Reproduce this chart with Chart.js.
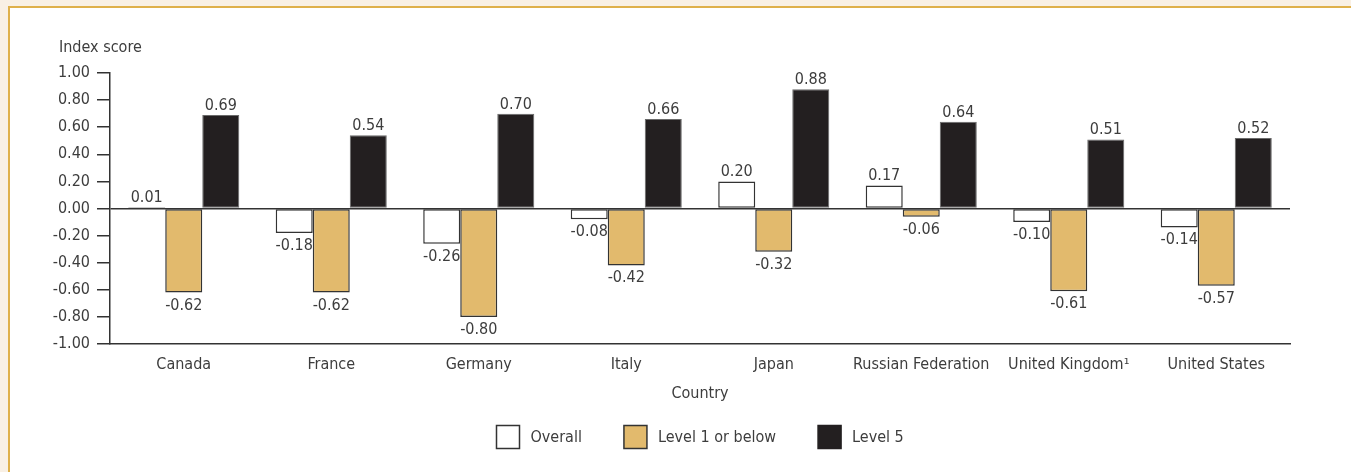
<!DOCTYPE html>
<html>
<head>
<meta charset="utf-8">
<script src="https://cdn.jsdelivr.net/npm/chart.js@4.4.1/dist/chart.umd.min.js"></script>
<style>
  html, body { margin: 0; padding: 0; background: #f9f0e4; overflow: hidden; }
  #panel {
    position: absolute; left: 8px; top: 6px; width: 1400px; height: 520px;
    background: #fff; border-top: 2px solid #dfb04a; border-left: 2px solid #dfb04a;
  }
  #chart { position: absolute; left: 0; top: 0; }
</style>
</head>
<body>
<div id="panel"></div>
<canvas id="chart" width="1351" height="472"></canvas>
<script>
const FONT = "'DejaVu Sans Condensed', 'Liberation Sans Narrow', sans-serif";
const SIZE = 16;
const INK = "#3d3d3d";

const countries = ["Canada", "France", "Germany", "Italy", "Japan", "Russian Federation", "United Kingdom\u00b9", "United States"];
const overall = [0.01, -0.18, -0.26, -0.08, 0.20, 0.17, -0.10, -0.14];
const level1 = [-0.62, -0.62, -0.80, -0.42, -0.32, -0.06, -0.61, -0.57];
const level5 = [0.69, 0.54, 0.70, 0.66, 0.88, 0.64, 0.51, 0.52];
const seriesNames = ["Overall", "Level 1 or below", "Level 5"];
const yMin = -1, yMax = 1, yStep = 0.2;

// value labels above / below each bar
const barLabels = {
  id: "barLabels",
  afterDatasetsDraw(chart) {
    const ctx = chart.ctx;
    ctx.save();
    ctx.font = `${SIZE}px ${FONT}`;
    ctx.fillStyle = INK;
    ctx.textAlign = "center";
    ctx.textBaseline = "alphabetic";
    chart.data.datasets.forEach((ds, i) => {
      chart.getDatasetMeta(i).data.forEach((bar, j) => {
        const v = ds.data[j];
        const top = Math.min(bar.y, bar.base);
        const bottom = Math.max(bar.y, bar.base);
        const y = v >= 0 ? top - 5 : bottom + 17;
        ctx.fillText(v.toFixed(2), bar.x, y);
      });
    });
    ctx.restore();
  },
};

// axis caption and legend row
const extras = {
  id: "extras",
  afterDraw(chart) {
    const ctx = chart.ctx;
    const area = chart.chartArea;
    ctx.save();
    ctx.font = `${SIZE}px ${FONT}`;
    ctx.fillStyle = INK;
    ctx.textBaseline = "alphabetic";
    ctx.textAlign = "left";
    ctx.fillText("Index score", 59, 52);

    const box = 23, gap = 11, spacing = 42;
    const widths = chart.data.datasets.map((ds) => box + gap + ctx.measureText(ds.label).width);
    const total = widths.reduce((a, b) => a + b, 0) + spacing * (widths.length - 1);
    let x = Math.round((area.left + area.right) / 2 - total / 2) + 0.5;
    const boxTop = 425.5;
    chart.data.datasets.forEach((ds, i) => {
      ctx.fillStyle = ds.backgroundColor;
      ctx.fillRect(x, boxTop, box, box);
      ctx.strokeStyle = ds.legendBorder;
      ctx.lineWidth = 1.5;
      ctx.strokeRect(x, boxTop, box, box);
      ctx.fillStyle = INK;
      ctx.textBaseline = "middle";
      ctx.fillText(ds.label, x + box + gap, boxTop + box / 2 + 1);
      x += widths[i] + spacing;
    });
    ctx.restore();
  },
};

new Chart(document.getElementById("chart").getContext("2d"), {
  type: "bar",
  data: {
    labels: countries,
    datasets: [
      { label: seriesNames[0], data: overall, backgroundColor: "#ffffff", borderColor: "#333333", legendBorder: "#333333", borderWidth: 1.5 },
      { label: seriesNames[1], data: level1, backgroundColor: "#e2ba6d", borderColor: "#333333", legendBorder: "#333333", borderWidth: 1.5 },
      { label: seriesNames[2], data: level5, backgroundColor: "#231f20", borderColor: "#6a6a6a", legendBorder: "#231f20", borderWidth: 1 },
    ],
  },
  options: {
    responsive: false,
    animation: false,
    devicePixelRatio: 1,
    layout: { padding: { left: 0, right: 61, top: 73, bottom: 56 } },
    datasets: { bar: { barPercentage: 1, categoryPercentage: 0.753, borderSkipped: false } },
    plugins: { legend: { display: false }, tooltip: { enabled: false } },
    scales: {
      x: {
        grid: { display: false, drawTicks: false },
        border: { display: true, color: "#333333", width: 1.5 },
        ticks: { color: INK, font: { family: FONT, size: SIZE }, padding: 11, maxRotation: 0, autoSkip: false },
        title: { display: true, text: "Country", color: INK, font: { family: FONT, size: SIZE }, padding: { top: 0, bottom: 13 } },
        afterFit: (scale) => { scale.height = 72; },
      },
      y: {
        min: yMin,
        max: yMax,
        grid: {
          drawOnChartArea: true,
          drawTicks: true,
          tickLength: 13,
          tickColor: "#333333",
          tickWidth: 1.5,
          lineWidth: 1.5,
          color: (c) => (c.tick && c.tick.value === 0 ? "#333333" : "rgba(0,0,0,0)"),
        },
        border: { display: true, color: "#333333", width: 1.5 },
        ticks: {
          stepSize: yStep,
          color: INK,
          font: { family: FONT, size: SIZE },
          padding: 7,
          callback: (v) => Number(v).toFixed(2),
        },
        afterFit: (scale) => { scale.width = 110; },
      },
    },
  },
  plugins: [barLabels, extras],
});
</script>
</body>
</html>
